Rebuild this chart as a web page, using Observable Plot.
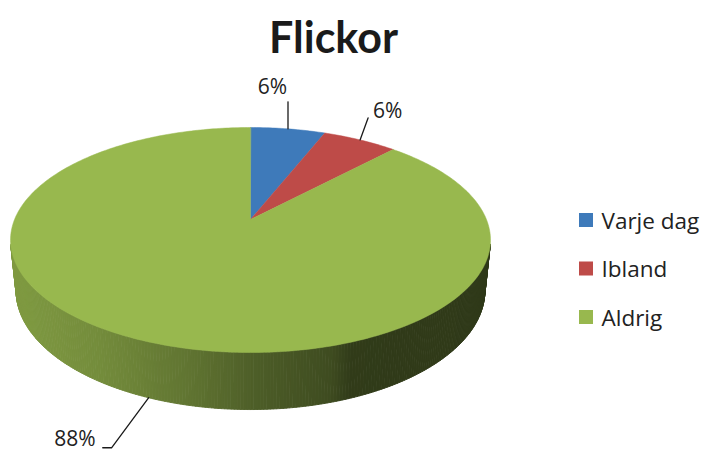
<!DOCTYPE html>
<html><head><meta charset="utf-8">
<script src="https://cdn.jsdelivr.net/npm/d3@7"></script>
<script src="https://cdn.jsdelivr.net/npm/@observablehq/plot@0.6"></script>
<style>
html,body{margin:0;padding:0;background:#fff;}
#chart svg{display:block;}
</style>
</head><body><div id="chart"></div>
<script>
// ---- data ----
const title = "Flickor";
const categories = ["Varje dag", "Ibland", "Aldrig"];
const values = [6, 6, 88];
const labels = ["6%", "6%", "88%"];
const colors = ["#3e7aba", "#be4b48", "#98b84e"];

// ---- 3D perspective pie geometry ----
const W = 706, H = 451;
const cx = 250, cy = 219;                 // projected centre of the top face
const F = 1148.7, D = 4.868;              // focal length, camera distance (in radii)
const s = 0.461, c = Math.sqrt(1 - s * s); // view elevation
const depth = 0.2435;                     // pie thickness (in radii)
const TAU = Math.PI * 2;

function proj(theta, yy) {
  const x = Math.sin(theta), z = Math.cos(theta);
  const v = yy * c + z * s, w = D + z * c - yy * s;
  return {px: cx + F * x / w, py: cy - F * v / w, w};
}

const total = d3.sum(values);
let acc = 0;
const slices = values.map((v, i) => {
  const a0 = acc / total * TAU; acc += v;
  const a1 = acc / total * TAU;
  return {i, a0, a1, mid: (a0 + a1) / 2};
});
const sliceAt = t => slices.find(d => t >= d.a0 && t < d.a1) || slices[slices.length - 1];

// side shading (horizontal lighting gradient)
const shade = d3.scaleLinear()
  .domain([10, 100, 190, 260, 330, 350, 490])
  .range([0.84, 0.76, 0.63, 0.5, 0.41, 0.32, 0.31]).clamp(true);
function sideColor(col, x) {
  const r = d3.rgb(col), f = shade(x);
  return d3.rgb(r.r * f, r.g * f, r.b * f).formatHex();
}

// side strips: only the camera-facing part of the cylinder wall
const visLimit = -1 / (D * c) + 0.01;
const N = 540;
const strips = d3.range(N).map(j => {
  const ta = j / N * TAU, tb = (j + 1) / N * TAU, tm = (ta + tb) / 2;
  const m = proj(tm, -depth / 2);
  const col = sideColor(colors[sliceAt(tm).i], m.px);
  return {j, tm, w: m.w, col, pts: [proj(ta, 0), proj(tb, 0), proj(tb, -depth), proj(ta, -depth)]};
}).filter(st => Math.cos(st.tm) < visLimit).sort((a, b) => b.w - a.w);
const sideRows = [];
strips.forEach((st, k) => st.pts.forEach(p => sideRows.push({k, x: p.px, y: p.py, fill: st.col})));

// top face slices
const topRows = [];
slices.forEach(sl => {
  topRows.push({k: sl.i, x: cx, y: cy, fill: colors[sl.i]});
  const n = Math.max(4, Math.ceil((sl.a1 - sl.a0) / TAU * 400));
  for (let t = 0; t <= n; ++t) {
    const p = proj(sl.a0 + (sl.a1 - sl.a0) * t / n, 0);
    topRows.push({k: sl.i, x: p.px, y: p.py, fill: colors[sl.i]});
  }
});

// data labels with leader lines (offsets are layout)
const labelLayout = [
  {path: [[0, -27]], text: [-1, -35], anchor: "end"},
  {path: [[8, -22]], text: [13, -22], anchor: "start"},
  {path: [[-37, 50], [-46, 50]], text: [-53, 48], anchor: "end"}
];
const leaderRows = [], labelRows = [];
slices.forEach(sl => {
  const front = Math.cos(sl.mid) < 0;
  const a = proj(sl.mid, front ? -depth : 0);
  const L = labelLayout[sl.i];
  leaderRows.push({k: sl.i, x: a.px, y: a.py});
  L.path.forEach(([dx, dy]) => leaderRows.push({k: sl.i, x: a.px + dx, y: a.py + dy}));
  labelRows.push({x: a.px + L.text[0], y: a.py + L.text[1], text: labels[sl.i], anchor: L.anchor});
});

// legend (layout)
const legX = 579, legY0 = 220, legStep = 48.5, sw = 14;
const legendRows = categories.map((name, i) => ({
  name, col: colors[i], x: legX, y: legY0 + i * legStep
}));

const labelMark = anchor => Plot.text(labelRows.filter(d => d.anchor === anchor), {
  x: "x", y: "y", text: "text", textAnchor: anchor, lineAnchor: "bottom",
  fontSize: 21, fill: "#222", fontFamily: "'Open Sans', sans-serif"});

const chart = Plot.plot({
  width: W, height: H,
  margin: 0,
  x: {domain: [0, W], range: [0, W], axis: null},
  y: {domain: [0, H], range: [0, H], axis: null},
  color: {type: "identity"},
  style: {background: "#fff", fontFamily: "'Open Sans', sans-serif"},
  marks: [
    Plot.line(sideRows, {x: "x", y: "y", z: "k", fill: "fill", stroke: "fill", strokeWidth: 0.9, curve: "linear-closed"}),
    Plot.line(topRows, {x: "x", y: "y", z: "k", fill: "fill", stroke: "fill", strokeWidth: 0.5, curve: "linear-closed"}),
    Plot.line(leaderRows, {x: "x", y: "y", z: "k", stroke: "#1a1a1a", strokeWidth: 1.3}),
    labelMark("start"), labelMark("end"), labelMark("middle"),
    Plot.rect(legendRows, {x1: d => d.x, x2: d => d.x + sw, y1: d => d.y - sw / 2, y2: d => d.y + sw / 2, fill: "col"}),
    Plot.text(legendRows, {x: d => d.x + 22, y: d => d.y + 8, text: "name", textAnchor: "start", lineAnchor: "bottom",
      fontSize: 22.5, fill: "#222", fontFamily: "'Open Sans', sans-serif"}),
    Plot.text([title], {x: () => 333, y: () => 52, text: d => d, lineAnchor: "bottom", textAnchor: "middle",
      fontSize: 43, fontWeight: 700, fill: "#1a1a1a", fontFamily: "Lato, sans-serif", letterSpacing: "-1px"})
  ]
});
document.getElementById("chart").appendChild(chart);
</script>
</body></html>
